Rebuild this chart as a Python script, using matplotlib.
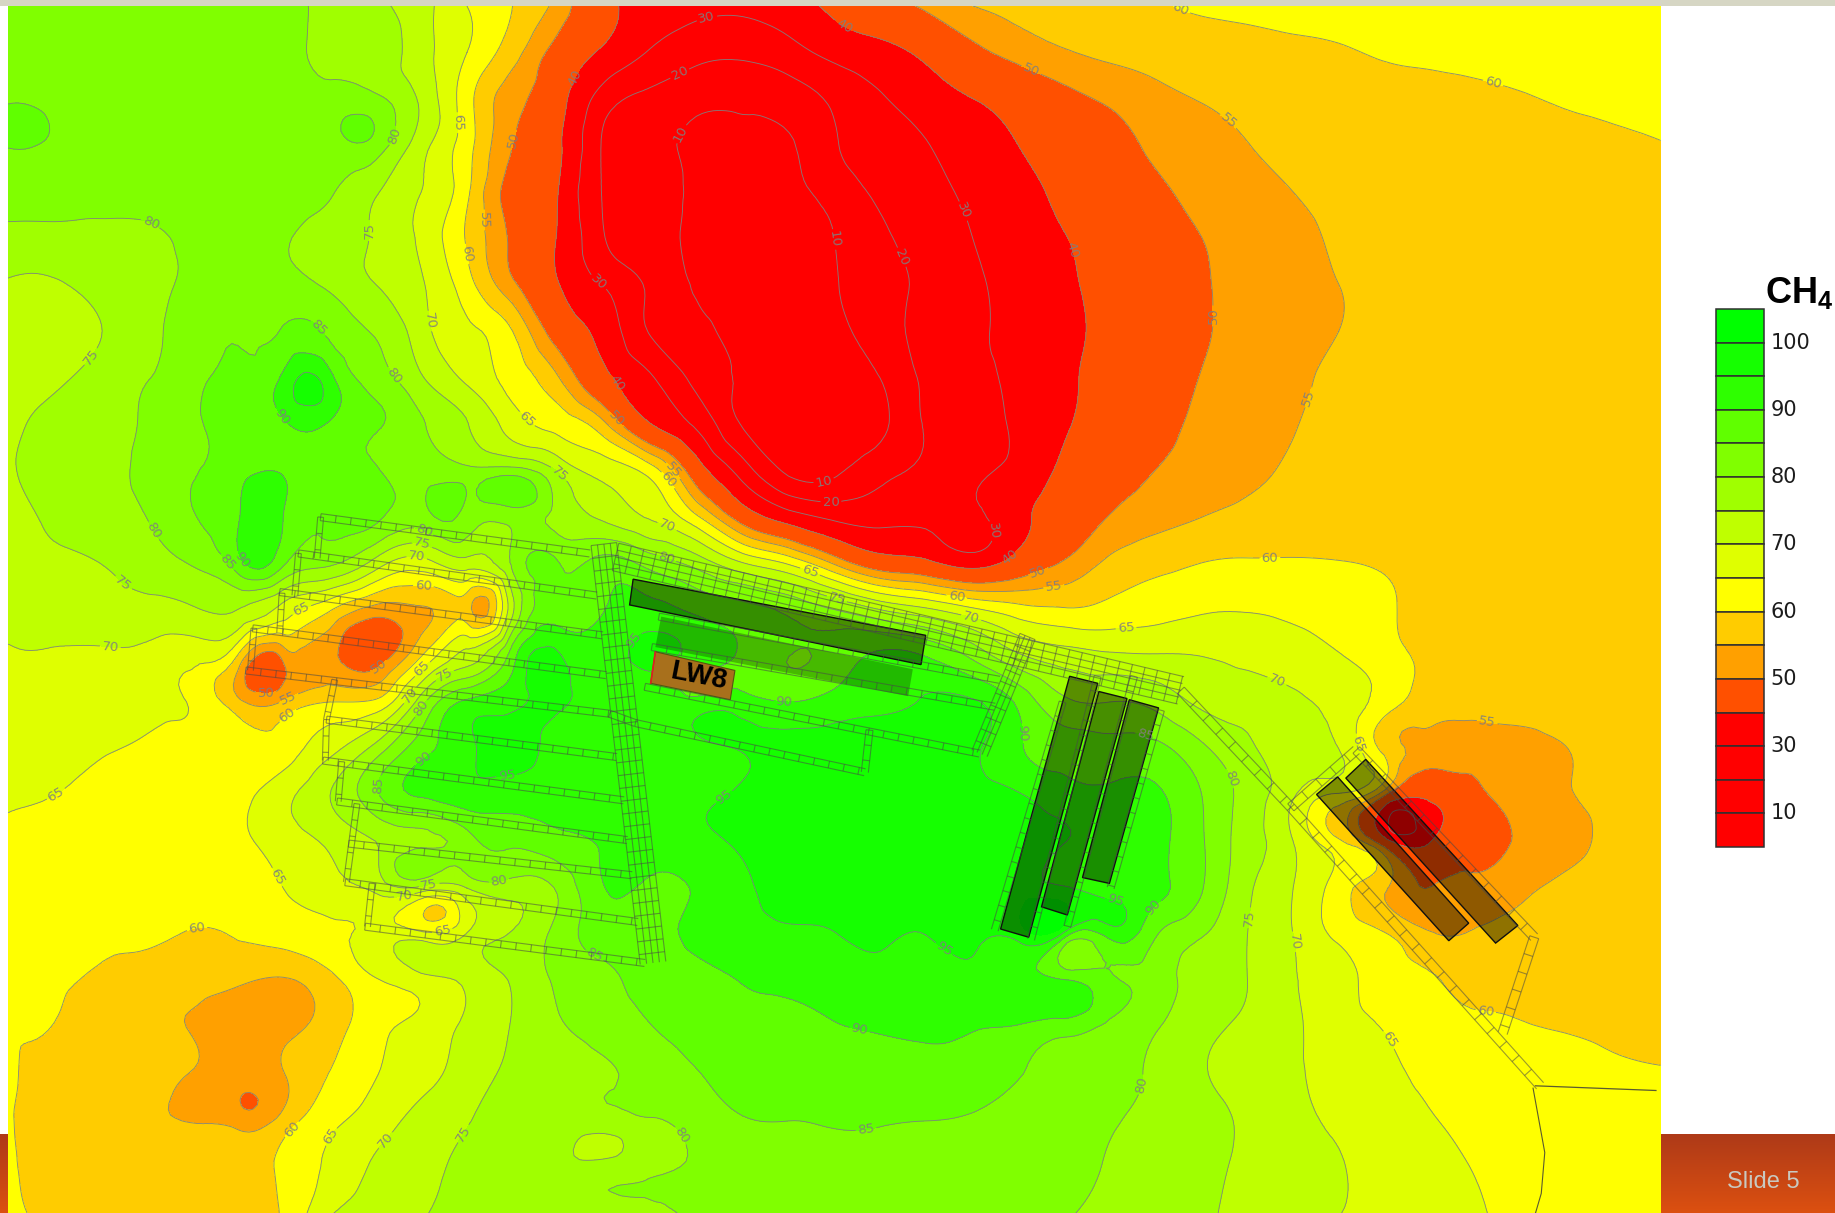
#!/usr/bin/env python3
# CH4 contour map over the mine plan, slide 5
import numpy as np
import matplotlib
matplotlib.use('Agg')
import matplotlib.pyplot as plt
import matplotlib.tri as mtri
from matplotlib.collections import LineCollection
from matplotlib.colors import LinearSegmentedColormap
from matplotlib.patches import Polygon, Rectangle

plt.rcParams['mathtext.fontset'] = 'custom'
plt.rcParams['mathtext.bf'] = 'Liberation Sans:bold'
plt.rcParams['mathtext.rm'] = 'Liberation Sans'

# --- CH4 readings taken off the map, plan position in slide units ---
grid_x = [7, 46, 85, 125, 164, 203, 242, 282, 321, 360, 399, 438, 478, 517, 556, 595, 635, 674, 713,
          752, 791, 831, 870, 909, 948, 987, 1027, 1066, 1105, 1144, 1183, 1223, 1262, 1301, 1340, 1379, 1419]
grid_y = [5, 45, 84, 124, 164, 203, 243, 283, 323, 362, 402, 442, 481, 521, 561, 600, 640, 680, 719,
          759, 799, 838, 878, 918, 958, 997, 1037]
ch4_grid = [
    [83,83,83,83,83,82,81,79,76,72, 65,60,53,42,37,33,32,36,42,47, 51,55,56,57,58,59.5,60.5,61,61.5,62, 62.5,63,63,63.5,64,64,64],
    [84,83,83,83,83,83,82,79,78,72, 65,57,47,38,29,23,22,26,33,37, 42,48,52,54.5,56,57,58,58.5,59,59.5, 60.5,61,61.5,62,62.5,63,63],
    [84,83,83,83,83,83,83,82,81,74, 62,52,43,25,17,13,12,15,22,29, 35,40,44,48,51,53.5,55.3,56.5,57,57.5, 58,58.5,59,59.7,60.5,61,61.5],
    [85.5,84,83,83,83,83,83,83,83,72, 62,50,41,18,12,8,8,9,19,25, 29.5,35,40,44,47.5,51,53,54.9,56,56.5, 57,57.5,58,58.5,59,59.5,59.9],
    [82,82,82,82,82,82.5,82.5,80.5,75.5,70, 61,48,39.5,19,14,8,7,8,14,22, 27,32,37,42,46,49,51.5,53.5,55,56, 56.5,57,57.5,58,58.5,59,59.5],
    [78.5,78.5,78.5,79,81,81.5,80.5,77.5,74.5,69, 59.5,49,39,20,13,8,6,7,10,18, 24,30,36,39.7,44,47.5,50,52.5,54,55.5, 56,56.5,57,57.5,58,58.5,59],
    [74.6,74.5,76.5,78.5,81,82,81.5,79,75,70.5, 62,51,40,29,18,9,7,7,9.5,16, 22,28,34,38.5,43,47,49.5,52,53.8,55, 56,56.5,57,57.5,57.8,58,58.5],
    [73,72.5,74.8,78.5,82.5,84.5,85.3,84,79.5,72, 66,60,46,36,19,12,7,6,8,15, 23,28,33.5,38,42.5,47,49.5,52,54,55, 56,56.5,57,57,57.2,57.5,58],
    [73,74,77,79.8,83,87,91,91.5,82.5,75.5, 69,63,55,42,31,17,9,7,7,10, 22,27,33,38.5,43,47,50.2,52.5,54.3,55.6, 56,56.5,57,57,57,57.3,57.5],
    [73.8,76.5,78.5,80.5,84,87,89.5,89.5,85.5,80.5, 75.2,67.5,63,55.5,40,28,9,7,7,8, 21,26,32,39,44,48,51,53,54.8,56, 56.5,57,57,57,57,57,57.5],
    [74.5,77,78.8,81,84.5,88,89.3,87,85.3,83, 81.5,82,74,68,62.5,45,25,8,8,16, 22,28,33,42,47,50,52,54,55.5,56.5, 57,57,57,57,57,57,57.5],
    [73,76,78,80,84.7,89.5,90,86,86,83, 83,82,78,74,69.5,61,46,35,28,27, 28,28,37,45,50.2,53,55,56.3,57,57, 57.5,57.5,57.5,57.5,57.5,57.5,57.5],
    [72.5,74,75,77.5,80.5,88,86,81,73,68, 73,81,85,87,83,78,70,64,54,45, 42,36,44,50.5,56,58.5,60,60.5,60.5,60.2, 59.5,58.5,58,57.5,57.5,57.5,57.5],
    [71,71.5,72.5,73.5,74.5,75,68,60.5,53,54.5, 57,74,87,90,92,89,87,84,80,75, 71,66,62,60.5,61.5,63,64.5,64.8,64.3,63, 60.8,58.5,58,57.5,57.5,57.5,57.5],
    [69.8,69.7,69.3,68.5,66.5,59.5,51.5,51.5,46,60, 72,88,95.5,93.5,96,93,89,85,87,91, 90,84,76,72.5,71,70.5,70,68.5,67,65.3, 62,59,58,57.5,57.5,57.5,57.5],
    [69,68.5,68,66.5,64.5,56.5,55.5,60,61,78, 91,94,95.5,93.5,93.5,91.5,92,90,92,94, 95.5,95.5,89,81,80,78.5,74,73,71,68.5, 62.5,57.5,57.5,57.5,57.5,57.5,57.5],
    [66.5,66.3,65.6,64,62,61,62.5,68.5,77,88, 94,96.5,93,93,92.5,92.5,95.3,96.5,97,97, 97,96,90.5,88,87,86.5,81,76,72,70, 58.5,53,51.5,53,55,56.5,57],
    [65.5,65,63.5,62,61.5,63,68.5,75,84,90.5, 93,92.5,92,91.5,91.5,93,96,97.5,97.5,97.5, 97.5,97,95.5,92,91,90.8,85,78,70.5,64, 50,42,48.5,52.5,54.8,56,57],
    [64,62.5,61.5,61,61.5,63.5,67.5,71,75,79, 83,86,88.5,90.5,92,93.5,96,98,98,98, 98,98,97,95.2,92,91,85.5,77.5,70,60.8, 44,40,46.5,51.5,54,56,57],
    [63,61.5,61,60.8,60.5,61.5,65,68,71.5,73.5, 75,77.5,81,90,89,90.5,94,97,97.5,98, 98,98,97,95.5,92,91,85.3,76,70,62.5, 55.5,50.2,52,54.2,56,57,57.5],
    [62,61,60.5,60.6,59.8,60.3,62,64,67,67, 70.5,75.5,82,87.5,88,91.5,93.5,94.2,94.8,96, 95,96.5,97,93,91.5,85.5,80.3,75,70,64, 60.5,55.5,55.5,56,57.2,57.5,58],
    [61.5,60.5,59.5,58,57,55.8,54.5,58.5,64.5,68, 71,75.5,81,84,86.5,88,90.3,91,92,93, 93.5,94,92.5,90.5,86,82.5,78.2,75,70.4,67, 62.5,60.3,58.5,57.5,58,58,58.5],
    [60.2,59.9,57.5,56,54.8,52.5,53.5,57.5,63.5,66.5, 71,75.3,79.5,82,84.8,87,88,89,89.8,90.3, 91,90.5,89.5,87.3,84,80.5,76.5,74,71,67, 64.7,61,60.8,60.3,59.8,59.3,59],
    [60.5,58.5,57,57,54.8,52.5,54.8,60.2,64.8,68, 72.5,76,78,79.5,81.5,84.7,86.5,87.5,88,88, 88,87.5,85.3,83,81.5,79.2,75.5,73,71,67.5, 66,63.5,62,61.5,61,60.5,60.2],
    [60.2,58.5,57,56,54.8,53,57,63.8,67.5,72, 74.8,77,78.5,78,79.7,82,84.7,85,85.4,85.3, 85,84.5,83,82,80.5,78.7,77,74,71.5,69, 67,65.3,63.5,62.5,62,61.5,61],
    [60.5,58.5,57.5,57,57,57,61,66,70.8,74, 76,78,77,77,79,80.5,82,83,83.5,83.5, 83,83,82.5,81.5,79.6,77.7,76.3,73.8,71.5,70.3, 68,66.5,64.7,63.5,63,62.5,62],
    [61,59,58.5,58,58,58.5,60.5,69.5,72.5,74.7, 76.5,77.5,78,78,79,80.5,81,81.5,82,82, 81.8,82,81.5,80.4,78.8,77.7,75.8,73.5,71.7,70.1, 68.3,66.8,65.3,64.5,64,63.5,63],
]

# small pockets that fall between the grid nodes
spot_x = [22, 308, 267, 438, 384, 408, 310, 222, 232, 262, 380, 224, 228, 215, 370, 214, 515, 603, 916, 917, 835, 1201, 1212, 949]
spot_y = [105, 105, 326, 408, 440, 519, 551, 580, 560, 566, 520, 445, 415, 480, 775, 947, 984, 615, 805, 831, 462, 702, 700, 772]
spot_ch4 = [87, 86, 96.5, 86, 86, 53, 44, 45, 48, 52, 56.5, 93, 92, 92, 59.5, 49.8, 73.5, 96, 84, 86, 27, 25, 32, 96]

# colour bands, top of legend first
legend_colors = ['#00ff00', '#15ff00', '#2eff00', '#60ff00', '#80ff00', '#a0ff00', '#bfff00', '#dfff00',
                 '#ffff00', '#ffcc00', '#ffa000', '#ff5000', '#ff0000', '#ff0000', '#ff0000', '#ff0000']
band_edges = [-50, 10, 20, 30, 40, 50, 55, 60, 65, 70, 75, 80, 85, 90, 95, 100, 150]
legend_labels = ['100', '90', '80', '70', '60', '50', '30', '10']

# contour labels, level -> places on the map
label_spots = {
    10: [(568, 108), (709, 205), (703, 408)],
    20: [(577, 55), (770, 220), (710, 430)],
    30: [(607, 28), (515, 237), (817, 183), (852, 453)],
    40: [(718, 28), (495, 68), (910, 215), (528, 327), (862, 475)],
    50: [(441, 120), (881, 60), (1038, 270), (530, 355), (887, 488), (227, 584), (320, 564)],
    55: [(414, 188), (1050, 103), (1125, 342), (587, 392), (900, 497), (1272, 611), (245, 593)],
    60: [(393, 218), (1009, 7), (1277, 67), (578, 405), (818, 507), (1085, 472), (1270, 862), (362, 498), (248, 614), (168, 792), (255, 971)],
    65: [(385, 105), (456, 352), (692, 489), (962, 532), (1162, 635), (1185, 890), (256, 517), (362, 573), (50, 682), (238, 749), (288, 975), (376, 785)],
    70: [(363, 275), (570, 450), (830, 527), (1092, 580), (1105, 805), (356, 477), (349, 593), (95, 547), (344, 757), (330, 975)],
    75: [(316, 197), (473, 410), (718, 503), (1072, 785), (360, 467), (380, 577), (78, 305), (103, 501), (363, 739), (403, 973)],
    80: [(328, 113), (335, 322), (570, 475), (1052, 665), (975, 927), (127, 195), (127, 456), (362, 454), (359, 605), (426, 751), (578, 973)],
    85: [(271, 281), (183, 489), (325, 671), (505, 823), (740, 965), (980, 625)],
    90: [(242, 355), (202, 482), (355, 638), (670, 600), (872, 627), (985, 775), (737, 868)],
    95: [(432, 655), (610, 670), (545, 550), (803, 817), (955, 760)],
}

# --- mine plan, road ends in slide units ---
west_gates = [((274, 442), (504, 473)), ((255, 473), (510, 509)), ((239, 506), (515, 543)), ((216, 537), (518, 577)),
              ((210, 573), (521, 610)), ((279, 615), (527, 647)), ((276, 650), (533, 684)), ((288, 685), (536, 718)),
              ((298, 721), (540, 748)), ((295, 754), (545, 788)), ((312, 792), (551, 823))]
west_links = [((274, 442), (271, 477)), ((255, 473), (252, 509)), ((241, 507), (239, 541)), ((217, 537), (214, 573)),
              ((286, 581), (279, 615)), ((279, 615), (278, 650)), ((292, 651), (289, 685)), ((305, 687), (296, 754)),
              ((318, 755), (314, 792))]
lw8_gates = [((563, 527), (854, 581)), ((557, 553), (850, 604)), ((551, 587), (837, 644)), ((543, 618), (739, 660)),
             ((743, 624), (739, 660)), ((521, 610), (543, 618))]
east_gates = [((908, 600), (850, 795)), ((938, 578), (881, 803)), ((969, 578), (912, 792)), ((992, 607), (949, 759))]
main_roads = [((516, 465), (558, 823), 5, 22), ((526, 476), (1009, 590), 5, 24), ((878, 544), (837, 644), 4, 14)]
se_gates = [((1009, 590), (1103, 690)), ((1103, 690), (1316, 928)), ((1103, 690), (1159, 641)), ((1159, 641), (1311, 801)),
            ((1311, 801), (1284, 883))]
tail_x = [1312, 1415]
tail_y = [928, 932]
cable_x = [1310, 1320, 1317, 1312]
cable_y = [930, 985, 1020, 1037]

panel_dark = [[(541, 495), (791, 543), (787, 568), (538, 517)],
              [(914, 578), (938, 584), (879, 801), (855, 794)],
              [(939, 591), (963, 597), (912, 782), (890, 775)],
              [(965, 598), (990, 605), (948, 755), (925, 750)],
              [(1143, 664), (1255, 789), (1238, 804), (1125, 679)],
              [(1167, 649), (1297, 791), (1278, 806), (1150, 665)]]
panel_light = [(565, 527), (780, 572), (776, 595), (560, 553)]
panel_lw8 = [(560, 557), (628, 573), (624, 598), (556, 584)]


def road_segments(p0, p1, n_lines=2, width=6.0, step=13.0):
    # parallel lines of one road plus its cross cuts
    p0, p1 = np.array(p0, float), np.array(p1, float)
    d = p1 - p0
    length = np.hypot(*d)
    u = d / length
    n = np.array([-u[1], u[0]])
    segs = []
    for off in np.linspace(-width / 2, width / 2, n_lines):
        segs.append([p0 + n * off, p1 + n * off])
    for s in np.arange(0, length, step):
        segs.append([p0 + u * s - n * width / 2, p0 + u * s + n * width / 2])
    return segs


fig = plt.figure(figsize=(18.35, 12.13), dpi=100, facecolor='white')
ax = fig.add_axes([0, 0, 1, 1])

# --- contour surface ---
xx, yy = np.meshgrid(grid_x, grid_y)
all_x = np.concatenate([xx.ravel(), spot_x])
all_y = np.concatenate([yy.ravel(), spot_y])
all_z = np.concatenate([np.array(ch4_grid, float).ravel(), spot_ch4])
tri = mtri.Triangulation(all_x, all_y)
fine_tri, fine_z = mtri.UniformTriRefiner(tri).refine_field(all_z, subdiv=3)

ax.tricontourf(fine_tri, fine_z, levels=band_edges, colors=legend_colors[::-1], zorder=1)

ax.set_xlim(0, 1568)
ax.set_ylim(1036.7, 0)
ax.axis('off')

# one contour set per level so each label lands on its own line
for level, places in label_spots.items():
    cs = ax.tricontour(fine_tri, fine_z, levels=[level], colors='#808080', linewidths=0.65, alpha=0.9, zorder=2)
    ax.clabel(cs, manual=places, inline=True, inline_spacing=2, fontsize=9.5, fmt='%d', colors='#7f7f7f')

# --- panels ---
for corners in panel_dark:
    ax.add_patch(Polygon(corners, closed=True, facecolor='black', alpha=0.44, edgecolor='none', zorder=3))
    ax.add_patch(Polygon(corners, closed=True, fill=False, edgecolor='#101010', linewidth=1.0, zorder=3.2))
ax.add_patch(Polygon(panel_light, closed=True, facecolor='black', alpha=0.27, edgecolor='none', zorder=3))
ax.add_patch(Polygon(panel_lw8, closed=True, facecolor='#a8701c', edgecolor='#555510', linewidth=0.8, zorder=3.2))
ax.plot([panel_lw8[0][0], panel_lw8[3][0]], [panel_lw8[0][1], panel_lw8[3][1]], color='#e02020', lw=1.2, zorder=3.3)
ax.text(597, 578, 'LW8', fontsize=20, fontweight='bold', family='Liberation Sans', rotation=-11,
        ha='center', va='center', color='black', zorder=5)

# --- roads ---
segs = []
for a, b in west_gates + lw8_gates + east_gates:
    segs += road_segments(a, b, 2, 6.0, 13.0)
for a, b in west_links:
    segs += road_segments(a, b, 2, 5.0, 14.0)
for a, b in se_gates:
    segs += road_segments(a, b, 2, 8.0, 16.0)
for a, b, n, w in main_roads:
    segs += road_segments(a, b, n, w, 11.0)
ax.add_collection(LineCollection(segs, colors='#484848', linewidths=0.8, alpha=0.55, zorder=4))
ax.plot(tail_x, tail_y, color='#5a5a30', lw=0.9, zorder=4)
ax.plot(cable_x, cable_y, color='#5a5a30', lw=0.8, zorder=4)

# --- slide furniture ---
ax.add_patch(Rectangle((0, 0), 1568, 5, facecolor='#d6d6c4', edgecolor='none', zorder=6))
ramp_cmap = LinearSegmentedColormap.from_list('bar', ['#ae3a18', '#dc5010'])
ramp = np.linspace(0, 1, 64).reshape(-1, 1)
ax.imshow(ramp, cmap=ramp_cmap, extent=(1419, 1568, 1037, 970), aspect='auto', zorder=6)
ax.imshow(ramp, cmap=ramp_cmap, extent=(0, 7, 1037, 970), aspect='auto', zorder=0.5)
ax.set_xlim(0, 1568)
ax.set_ylim(1036.7, 0)
ax.text(1507, 1010, 'Slide 5', fontsize=17, family='Liberation Sans', color='#c9c9c0', ha='center', va='center', zorder=7)

# --- legend ---
box_top, box_h = 264.0, 28.75
for i, col in enumerate(legend_colors):
    ax.add_patch(Rectangle((1466, box_top + i * box_h), 41, box_h, facecolor=col, edgecolor='#303030', linewidth=1.1, zorder=6))
for i, lab in enumerate(legend_labels):
    ax.text(1513, box_top + (2 * i + 1) * box_h, lab, fontsize=15, color='#1c1c1c', va='center', ha='left', zorder=7)
ax.text(1508, 250, r'CH$_{\mathbf{4}}$', fontsize=26, fontweight='bold', family='Liberation Sans', va='center', ha='left', zorder=7)

fig.savefig('out.png', dpi=100, facecolor='white')
